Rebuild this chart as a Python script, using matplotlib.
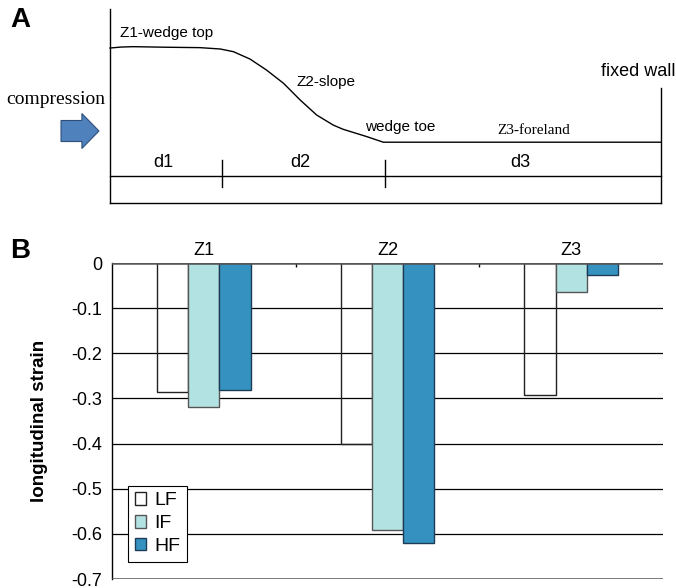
import numpy as np
import matplotlib
matplotlib.use("Agg")
import matplotlib.pyplot as plt
from matplotlib.patches import FancyArrow, Patch

plt.rcParams['font.family'] = ['Liberation Sans', 'DejaVu Sans']

# ---- panel A : schematic wedge profile (x = fraction of model length, y = relative height)
profile_x = [0.0, 0.02, 0.042, 0.103, 0.163, 0.200, 0.224, 0.254, 0.284, 0.315, 0.345,
             0.375, 0.405, 0.423, 0.466, 0.496, 1.0]
profile_y = [0.803, 0.808, 0.810, 0.807, 0.805, 0.798, 0.784, 0.746, 0.689, 0.620, 0.534,
             0.456, 0.404, 0.382, 0.344, 0.315, 0.315]
zone_bounds = [0.203, 0.499]
zone_names = ['d1', 'd2', 'd3']
d_line_y = 0.14
wall_top = 0.596

# ---- panel B : longitudinal strain per zone
zones = ['Z1', 'Z2', 'Z3']
series = ['LF', 'IF', 'HF']
LF = [-0.285, -0.400, -0.292]
IF = [-0.320, -0.592, -0.064]
HF = [-0.282, -0.621, -0.026]
yticks = [0, -0.1, -0.2, -0.3, -0.4, -0.5, -0.6, -0.7]

fig = plt.figure(figsize=(6.76, 5.88), dpi=100)

# panel A
ax_a = fig.add_axes([110/676, 1 - 203/588, 551/676, 193/588])
ax_a.set_xlim(0, 1)
ax_a.set_ylim(0, 1)
ax_a.axis('off')
lk = dict(color='black', lw=1.0, clip_on=False)
ax_a.plot([0, 0], [0, 1.005], **lk)
ax_a.plot([0, 1], [0, 0], **lk)
ax_a.plot([1, 1], [0, wall_top], **lk)
ax_a.plot([0, 1], [d_line_y, d_line_y], **lk)
ax_a.plot(profile_x, profile_y, solid_joinstyle='round', **lk)
for b in zone_bounds:
    ax_a.plot([b, b], [d_line_y - 0.055, d_line_y + 0.085], **lk)
edges = [0] + zone_bounds + [1]
for i, name in enumerate(zone_names):
    ax_a.text((edges[i] + edges[i + 1]) / 2 - 0.005, 0.21, name, ha='center', va='center', fontsize=13)

ax_a.text(0.018, 0.88, 'Z1-wedge top', ha='left', va='center', fontsize=11)
ax_a.text(0.338, 0.627, 'Z2-slope', ha='left', va='center', fontsize=11)
ax_a.text(0.463, 0.394, 'wedge toe', ha='left', va='center', fontsize=11)
ax_a.text(0.703, 0.378, 'Z3-foreland', ha='left', va='center', fontsize=11, family='Liberation Serif')
ax_a.text(1.027, 0.679, 'fixed wall', ha='right', va='center', fontsize=13, clip_on=False)
ax_a.text(-0.009, 0.534, 'compression', ha='right', va='center', fontsize=14, family='Liberation Serif')
arrow = FancyArrow(-0.0889, 0.373, 0.0689, 0, width=0.109, head_width=0.181, head_length=0.031,
                   length_includes_head=True, facecolor='#4f81bd', edgecolor='#2f4f7a', lw=0.8, clip_on=False)
ax_a.add_patch(arrow)

fig.text(0.015, 1 - 20/588, 'A', fontsize=20, fontweight='bold', va='center')
fig.text(0.015, 1 - 251/588, 'B', fontsize=20, fontweight='bold', va='center')

# panel B
ax = fig.add_axes([112/676, 1 - 579/588, 551/676, 316/588])
x = np.arange(len(zones)) + 0.5
w = 0.17
for v in yticks[1:-1]:
    ax.axhline(v, color='black', lw=0.9, zorder=1)
ax.axhline(0, color='#555555', lw=1.8, zorder=4)
ax.axhline(-0.7, color='#555555', lw=1.8, zorder=4)
ax.bar(x - w, LF, w, facecolor='none', edgecolor='#222222', lw=1.0, zorder=3)
ax.bar(x, IF, w, facecolor='#b3e2e3', edgecolor='#555555', lw=1.0, zorder=3)
ax.bar(x + w, HF, w, facecolor='#3592c0', edgecolor='#1c3c55', lw=1.0, zorder=3)

ax.set_xlim(0, 3)
ax.set_ylim(-0.7, 0)
ax.set_yticks(yticks)
ax.set_yticklabels(['0' if v == 0 else f'{v:.1f}' for v in yticks], fontsize=13)
ax.tick_params(axis='y', length=0, pad=7)
ax.xaxis.set_ticks_position('top')
ax.set_xticks(x)
ax.set_xticklabels(zones, fontsize=13)
ax.set_xticks([1, 2], minor=True)
ax.tick_params(axis='x', which='major', length=0, pad=3)
ax.tick_params(axis='x', which='minor', top=True, direction='in', length=3, width=1)
for s in ['top', 'right', 'bottom']:
    ax.spines[s].set_visible(False)
ax.spines['left'].set_linewidth(1.0)
ax.set_ylabel('longitudinal strain', fontsize=13.5, fontweight='bold')
ax.yaxis.set_label_coords(-0.117, 0.5)

handles = [Patch(facecolor='white', edgecolor='#222222'),
           Patch(facecolor='#b3e2e3', edgecolor='#555555'),
           Patch(facecolor='#3592c0', edgecolor='#1c3c55')]
leg = ax.legend(handles, series, loc='lower left', bbox_to_anchor=(0.029, 0.054), fontsize=14,
                frameon=True, fancybox=False, edgecolor='black', framealpha=1,
                handlelength=0.6, handleheight=0.6, handletextpad=0.4, labelspacing=0.3,
                borderpad=0.35, borderaxespad=0)
leg.get_frame().set_linewidth(0.8)
leg.set_zorder(5)

fig.savefig('out.png', dpi=100)
